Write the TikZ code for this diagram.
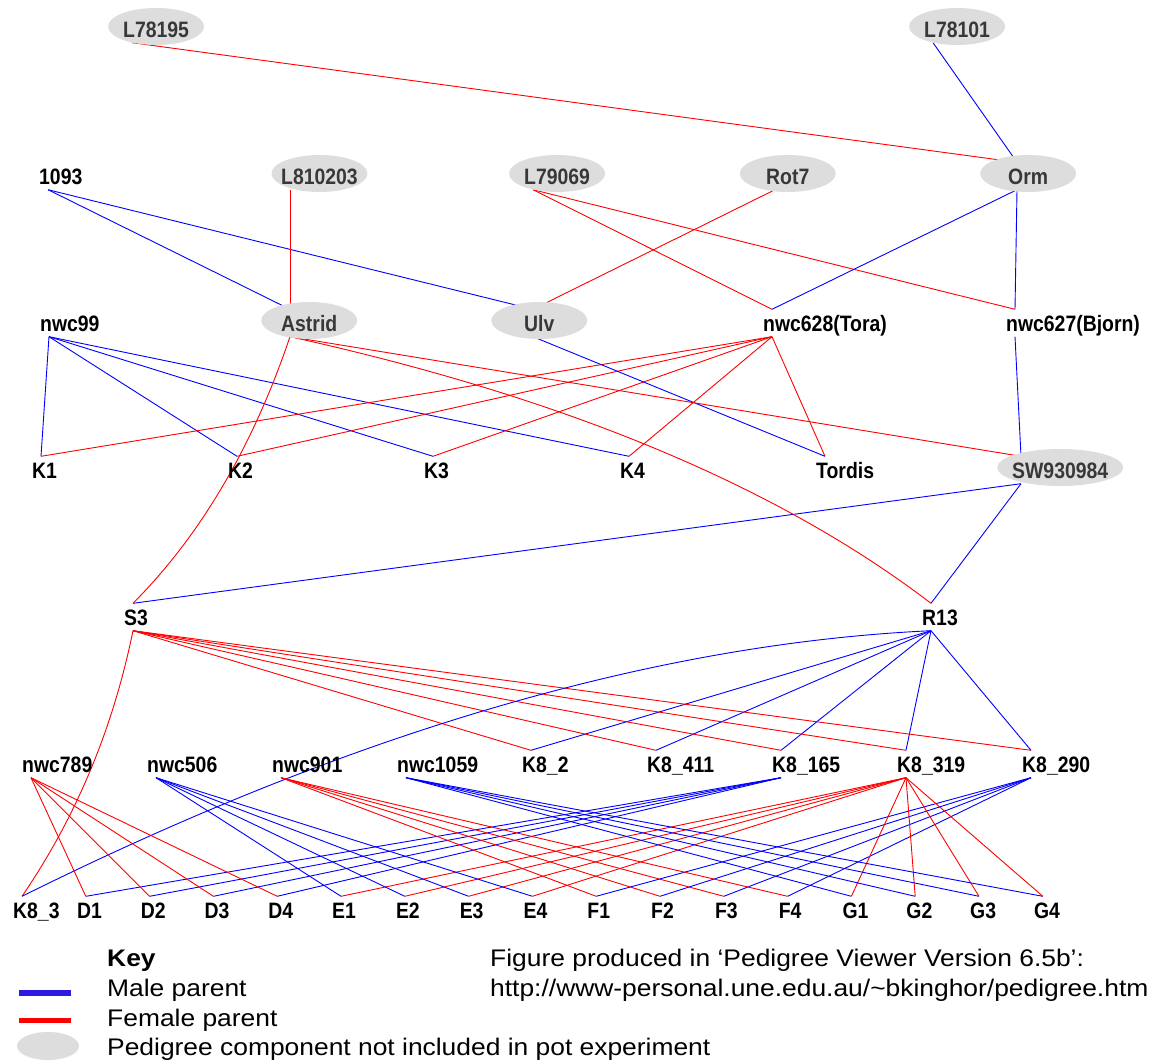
\documentclass[tikz,border=0pt]{standalone}
\usepackage{fontspec}
\setmainfont{Liberation Sans}
\newfontfamily\lblfont[FakeStretch=0.87]{Liberation Sans}
\newfontfamily\keyfont[FakeStretch=1.1]{Liberation Sans}
\definecolor{mblue}{RGB}{0,0,255}
\definecolor{fred}{RGB}{255,0,0}
\definecolor{ellg}{RGB}{221,221,221}
\definecolor{keyblue}{RGB}{45,25,225}
\pgfdeclarelayer{bg}
\pgfdeclarelayer{edges}
\pgfdeclarelayer{ells}
\pgfsetlayers{bg,edges,ells,main}
\tikzset{
  lbl/.style={anchor=west, inner xsep=0pt, inner ysep=5.5pt, text height=16pt, text depth=0pt,
    font=\lblfont\bfseries\fontsize{22.3}{24}\selectfont},
  glbl/.style={lbl, text=black!78},
  male/.style={draw=mblue, line width=0.9pt},
  female/.style={draw=fred, line width=0.9pt},
  pedell/.style={fill=ellg},
  keytxt/.style={anchor=base west, inner sep=0pt, font=\keyfont\fontsize{24}{28}\selectfont},
}
\newcommand{\lnk}[3]{\draw[#1] ([xshift=9pt]#2.south west) -- ([xshift=9pt]#3.north west);}
\newcommand{\pell}[2]{\fill[pedell] ([yshift=2.5pt]#1.center) ellipse (#2pt and 18.5pt);}
\begin{document}
\begin{tikzpicture}[x=1pt,y=-1pt]
\useasboundingbox (0,0) rectangle (1160,1063);
\begin{pgfonlayer}{bg}
\fill[white] (0,0) rectangle (1160,1063);
\end{pgfonlayer}
% row 1
\node[glbl] (L78195) at (123,29) {L78195};
\node[glbl] (L78101) at (924,29) {L78101};
% row 2
\node[lbl] (n1093) at (39,176) {1093};
\node[glbl] (L810203) at (281,176) {L810203};
\node[glbl] (L79069) at (524,176) {L79069};
\node[glbl] (Rot7) at (766,176) {Rot7};
\node[glbl] (Orm) at (1008,176) {Orm};
% row 3
\node[lbl] (nwc99) at (40,323) {nwc99};
\node[glbl] (Astrid) at (281,323) {Astrid};
\node[glbl] (Ulv) at (524,323) {Ulv};
\node[lbl] (Tora) at (763,323) {nwc628(Tora)};
\node[lbl] (Bjorn) at (1006,323) {nwc627(Bjorn)};
% row 4
\node[lbl] (K1) at (32,470) {K1};
\node[lbl] (K2) at (228,470) {K2};
\node[lbl] (K3) at (424,470) {K3};
\node[lbl] (K4) at (620,470) {K4};
\node[lbl] (Tordis) at (816,470) {Tordis};
\node[glbl] (SW) at (1012,470) {SW930984};
% row 5
\node[lbl] (S3) at (124,617) {S3};
\node[lbl] (R13) at (922,617) {R13};
% row 6
\foreach \t [count=\i from 0] in {nwc789,nwc506,nwc901,nwc1059,K8\_2,K8\_411,K8\_165,K8\_319,K8\_290}
  \node[lbl] (p\i) at ({22+125*\i},764) {\t};
% row 7
\foreach \t [count=\i from 0] in {K8\_3,D1,D2,D3,D4,E1,E2,E3,E4,F1,F2,F3,F4,G1,G2,G3,G4}
  \node[lbl] (c\i) at ({13+63.8*\i},910) {\t};
% ellipses
\begin{pgfonlayer}{ells}
\pell{L78195}{48}
\pell{L78101}{48}
\pell{L810203}{48}
\pell{L79069}{48}
\pell{Rot7}{48}
\pell{Orm}{48}
\pell{Astrid}{48}
\pell{Ulv}{48}
\pell{SW}{63}
\end{pgfonlayer}
% connectors
\begin{pgfonlayer}{edges}
\lnk{female}{L78195}{Orm}
\lnk{male}{L78101}{Orm}
\lnk{male}{n1093}{Astrid}
\lnk{male}{n1093}{Ulv}
\lnk{female}{L810203}{Astrid}
\lnk{female}{L79069}{Tora}
\lnk{female}{L79069}{Bjorn}
\lnk{female}{Rot7}{Ulv}
\lnk{male}{Orm}{Tora}
\lnk{male}{Orm}{Bjorn}
\foreach \k in {K1,K2,K3,K4} {\lnk{male}{nwc99}{\k}}
\foreach \k in {K1,K2,K3,K4,Tordis} {\lnk{female}{Tora}{\k}}
\lnk{male}{Ulv}{Tordis}
\lnk{male}{Bjorn}{SW}
\lnk{female}{Astrid}{SW}
\lnk{male}{SW}{S3}
\lnk{male}{SW}{R13}
\draw[female] ([xshift=9pt]Astrid.south west) .. controls (252.7,447) and (200.3,535.7) .. ([xshift=9pt]S3.north west);
\draw[female] ([xshift=9pt]Astrid.south west) .. controls (563.3,397) and (777,485.7) .. ([xshift=9pt]R13.north west);
\foreach \k in {4,...,8} {\lnk{female}{S3}{p\k}\lnk{male}{R13}{p\k}}
\draw[female] ([xshift=9pt]S3.south west) .. controls (113,728.8) and (76,817.3) .. ([xshift=9pt]c0.north west);
\draw[male] ([xshift=9pt]R13.south west) .. controls (657,643.5) and (354,731.3) .. ([xshift=9pt]c0.north west);
\foreach \k in {1,...,4} {\lnk{female}{p0}{c\k}\lnk{male}{p6}{c\k}}
\foreach \k in {5,...,8} {\lnk{male}{p1}{c\k}\lnk{female}{p7}{c\k}}
\foreach \k in {9,...,12} {\lnk{female}{p2}{c\k}\lnk{male}{p8}{c\k}}
\foreach \k in {13,...,16} {\lnk{male}{p3}{c\k}\lnk{female}{p7}{c\k}}
\end{pgfonlayer}
% key
\coordinate (kb1) at (19,993); \coordinate (kb2) at (71,993);
\coordinate (kr1) at (19,1020); \coordinate (kr2) at (71,1020);
\draw[keyblue, line width=5.5pt] (kb1) -- (kb2);
\draw[fred, line width=5pt] (kr1) -- (kr2);
\fill[ellg] (48,1046) ellipse (31pt and 14pt);
\node[keytxt, font=\keyfont\bfseries\fontsize{24}{28}\selectfont] (keyttl) at (107,966) {Key};
\node[keytxt] (kmale) at (107,996) {Male parent};
\node[keytxt] (kfem) at (107,1026) {Female parent};
\node[keytxt] (kell) at (107,1055) {Pedigree component not included in pot experiment};
\node[keytxt] (fig1) at (490,966) {Figure produced in ‘Pedigree Viewer Version 6.5b’:};
\node[keytxt] (fig2) at (490,996) {http://www-personal.une.edu.au/\textasciitilde bkinghor/pedigree.htm};
\end{tikzpicture}
\end{document}
